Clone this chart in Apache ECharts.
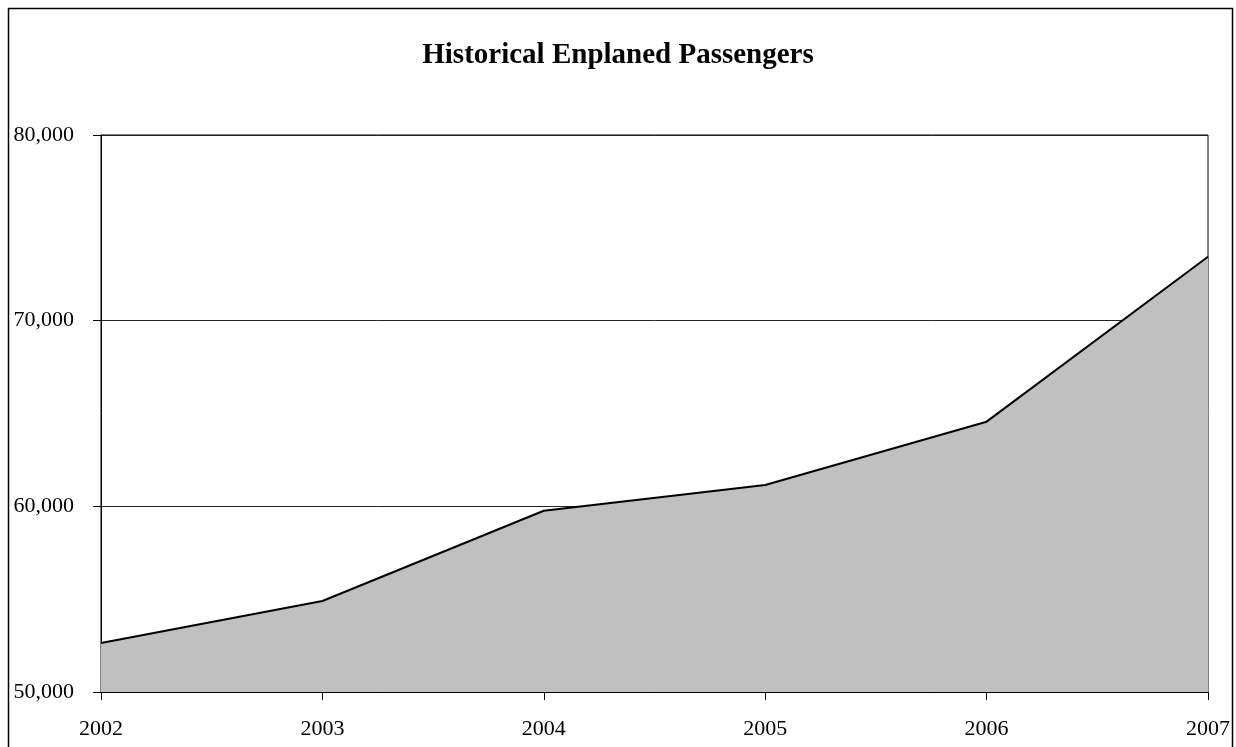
<!DOCTYPE html>
<html>
<head>
<meta charset="utf-8">
<style>
html,body{margin:0;padding:0;background:#fff;}
#chart{width:1236px;height:747px;}
</style>
<script src="https://cdn.jsdelivr.net/npm/echarts@6/dist/echarts.min.js"></script>
</head>
<body>
<div id="chart"></div>
<script>
const titleText = 'Historical Enplaned Passengers';
const years = ['2002', '2003', '2004', '2005', '2006', '2007'];
const passengers = [52640, 54900, 59760, 61150, 64560, 73440];
const yMin = 50000, yMax = 80000, yStep = 10000;

const fontFam = '"Liberation Serif", "Times New Roman", serif';
const chart = echarts.init(document.getElementById('chart'), null, {renderer: 'canvas'});
chart.setOption({
  animation: false,
  backgroundColor: '#ffffff',
  title: {
    text: titleText,
    left: 'center',
    top: 36,
    textStyle: {fontFamily: fontFam, fontWeight: 'bold', fontSize: 29, color: '#000'}
  },
  graphic: [{
    type: 'rect',
    shape: {x: 8.5, y: 8.5, width: 1224, height: 760},
    style: {fill: 'none', stroke: '#000', lineWidth: 1.5},
    silent: true
  }],
  grid: {
    left: 101, right: 28, top: 135, bottom: 55,
    show: true, borderColor: '#000', borderWidth: 1, backgroundColor: 'transparent'
  },
  xAxis: {
    type: 'category',
    data: years,
    boundaryGap: false,
    axisLine: {lineStyle: {color: '#000', width: 1}},
    axisTick: {show: true, length: 8, inside: false, alignWithLabel: true, lineStyle: {color: '#000'}},
    axisLabel: {margin: 26, fontFamily: fontFam, fontSize: 22, color: '#000'},
    splitLine: {show: false}
  },
  yAxis: {
    type: 'value',
    min: yMin, max: yMax, interval: yStep,
    axisLine: {show: true, lineStyle: {color: '#000', width: 1}},
    axisTick: {show: true, length: 8, lineStyle: {color: '#000'}},
    axisLabel: {
      margin: 27, fontFamily: fontFam, fontSize: 22, color: '#000',
      formatter: v => v.toLocaleString('en-US')
    },
    splitLine: {show: true, lineStyle: {color: '#222', width: 1}}
  },
  series: [{
    type: 'line',
    data: passengers,
    symbol: 'none',
    lineStyle: {color: '#000', width: 2},
    areaStyle: {color: '#C0C0C0', opacity: 1, origin: 'start'},
    z: 1
  }]
});
</script>
</body>
</html>
